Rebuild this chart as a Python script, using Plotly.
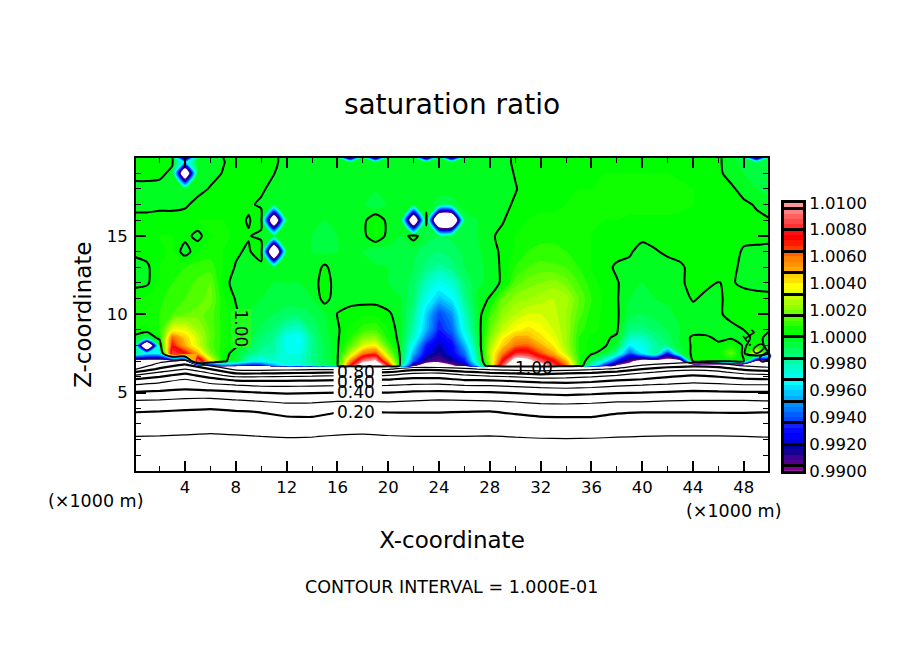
import numpy as np
import plotly.graph_objects as go

W, H = 904, 654

# grid of the upper part, x in km, z in km
x_km = list(range(0, 51))
z_upper = [6.5, 6.7, 7.0, 7.5, 8.0, 8.5, 9.0, 10.0, 11.0, 12.0, 13.0, 14.0, 15.0, 16.0, 17.0, 18.0, 19.0, 19.7, 20.0]

# saturation ratio minus 1, in units of 0.0001, one row per z_upper
dev_rows = [
    [-500] * 51,
    [-150, -150, -150, -150, -150, -130, -110, -60, -70, -80,
     -75, -50, -30, -30, -20, -10, -2, 70, 125, 130,
     80, -10, -95, -120, -120, -105, -90, -40, 20, 90,
     130, 130, 120, 90, 60, 12, -25, -70, -105, -110,
     -150, -150, -150, -150, -150, -150, -150, -150, -150, -150, -150],
    [-115, -115, -115, -115, -115, 95, 40, 2, -5, -25,
     -30, -25, -25, -25, -15, -8, -1, 55, 95, 105,
     50, -4, -60, -90, -95, -85, -70, -20, 25, 75,
     115, 110, 90, 75, 50, 10, -10, -30, -70, -95,
     -115, -115, -115, -115, 1, 2, 1, 2, 0, -110, -100],
    [-12, -30, -30, 85, 75, 50, 20, 3, -3, -12,
     -18, -20, -28, -28, -15, -7, -1, 28, 58, 65,
     25, -3, -45, -75, -85, -75, -55, -15, 28, 58,
     80, 80, 65, 50, 30, 8, 1, -3, -20, -60,
     -35, -15, -70, -8, 2, 3, 3, 15, -3, 40, -3],
    [-6, -170, -8, 72, 50, 32, 14, 6, 1, -8,
     -14, -18, -30, -32, -15, -7, -1, 14, 32, 38,
     12, -3, -35, -68, -80, -72, -45, -10, 25, 45,
     60, 62, 50, 40, 25, 8, 2, 1, -5, -35,
     -30, -18, -12, -4, 1, 3, 1, 6, -1, 4, -3],
    [-2, -8, 3, 62, 45, 30, 15, 6, 1, -6,
     -12, -16, -30, -33, -15, -6, -1, 8, 20, 22,
     6, -3, -25, -55, -75, -65, -35, -8, 20, 38,
     50, 50, 42, 35, 25, 8, 3, 1, -1, -22,
     -22, -15, -10, -3, 1, 1, -1, -1, -2, 2, -2],
    [4, 3, 8, 35, 35, 25, 15, 6, 1, -5,
     -9, -13, -22, -24, -12, -5, -1, 5, 10, 12,
     4, -3, -20, -45, -68, -58, -28, -6, 16, 30,
     38, 42, 38, 32, 25, 10, 5, 3, 1, -14,
     -14, -11, -8, -4, -2, -2, -1, -1, 0, 1, 0.5],
    [5, 6, 8, 12, 16, 18, 14, 6, 1, -4,
     -6, -8, -10, -10, -8, -4, 0.3, 2, 3, 3,
     1, -3, -16, -40, -62, -50, -22, -5, 10, 22,
     28, 32, 32, 30, 24, 14, 6, 3, 1, -6,
     -8, -6, -5, -3, -2, -1, -0.5, 1, 3, 3, 2],
    [4, 5, 7, 10, 12, 14, 18, 5, -0.5, -4,
     -4, -5, -6, -5, -4, 2, -3, -2, -2, -2,
     -3, -4, -12, -30, -42, -35, -16, -3, 0.5, 16,
     22, 24, 26, 28, 26, 16, 8, 3, 0.5, -4,
     -5, -4, -3, -2, 0.5, -1, -1, 2, 4, 4, 3],
    [-2, -1, 5, 8, 10, 13, 16, 2, -2, -3,
     -3, -4, -4, -4, -3, 3, -3, -3, -3, -3,
     -4, -5, -10, -22, -30, -25, -12, -5, -3, 1,
     14, 18, 20, 22, 18, 12, 6, 2, 0.5, -3,
     -4, -3, -3, -1, 2, 1, -0.2, 1, -2, -4, -4],
    [-2, -1, 4, 6, 8, 10, 10, 4, -0.5, -3,
     -3, -4, -4, -4, -3, 1, -3, -3, -3, -3,
     -4, -5, -8, -14, -18, -14, -8, -5, -3, 1,
     8, 12, 14, 13, 12, 8, 4, 2, -1, -1,
     -3, -2, -2, -1, 2, 3, 3, 2, -2, -4, -4],
    [1, 2, 3, 5, -3, 4, 6, 4, 1, -1,
     5, -170, -4, -4, -4, -5, -4, -4, -4, -8,
     -5, -5, -7, -10, -12, -10, -7, -5, -1, 0.5,
     5, 8, 9, 9, 8, 6, 4, 3, 2, 0.5,
     -1.5, -0.5, 1, 2, 3, 3, 3, 3, -1, -1.5, -1],
    [2, 3, 4, 4, 2, -2, 4, 5, 3, 0.5,
     -2, -4, -4, -4, -4, -5, -4, -4, -2, 5,
     -2, -4, 3, -6, -8, -7, -6, -4, -1, 1.5,
     4, 6, 7, 7, 6, 5, 4, 3, 3, 0.5,
     1, 2, 3, 3, 3, 3, 3, 3, 2, 2, 1],
    [2, 2, 3, 3, 3, 4, 4, 4, 2, -0.5,
     3, -150, -4, -4, -4, -4, -4, -4, -2, 5,
     -2, -4, -150, 3, -175, -175, -5, -4, -3, -0.5,
     3, 4, 5, 5, 5, 4, 4, 4, 4, 3,
     3, 3, 3, 3, 3, 3, 3, 3, 2, 1, 0.5],
    [-2, -2, -2, -2, -1, 2, 3, 3, 2, 1,
     -1, -3, -3, -3, -3, -3, -3, -3, -3, -8,
     -3, -3, -3, -3, -5, -5, -3, -3, -3, -2,
     1, 3, 3, 3, 4, 4, 4, 5, 6, 6,
     6, 6, 6, 5, 4, 3, 3, 2, 1, -0.5, -3],
    [-3, -3, -3, -3, -3, -2, 0.5, 3, 3, 2,
     1, -2, -3, -3, -3, -3, -3, -3, -3, -3,
     -3, -3, -3, -3, -3, -3, -3, -3, -3, -3,
     -0.5, 3, 3, 3, 3, 4, 4, 5, 6, 6,
     6, 6, 6, 5, 4, 3, 2, 1, -2, -4, -5],
    [3, 3, 2, -2, -150, -3, -2, 0.3, 3, 3,
     2, 0.2, -3, -3, -3, -3, -3, -3, -3, -3,
     -3, -3, -3, -3, -3, -3, -3, -3, -3, -3,
     0.5, 3, 3, 3, 3, 3, 3, 4, 4, 4,
     4, 4, 4, 3, 3, 2, 1, -2, -4, -5, -5],
    [3, 3, 2, 1, -40, -3, -2, -0.3, 2, 2,
     2, 1, -2, -3, -3, -3, -3, -3, -3, -3,
     -3, -3, -3, -3, -3, -3, -3, -3, -3, -2,
     1, 2, 3, 3, 3, 3, 3, 3, 3, 3,
     3, 3, 3, 3, 2, 2, 1, -3, -5, -6, -6],
    [3, 3, 2, 2, -105, -3, -2, 0, 2, 2,
     2, 1, -2, -3, -3, -3, -3, -110, -4, -110,
     -4, -3, -3, -110, -4, -110, -3, -3, -3, -2,
     1, 2, 2, 2, 2, 2, 2, 2, 2, 2,
     2, 2, 2, 2, 2, 2, 1, -3, -6, -110, -6],
]

# lower part, saturation ratio itself, coarser in x
x_low = list(range(0, 52, 2))
z_low = [0.0, 2.2, 3.8, 4.5, 5.05, 5.5, 5.85, 6.1, 6.3, 6.5, 6.75, 7.1, 7.5]
low_rows = [
    [0.01] * 26,
    [.100, .098, .094, .090, .094, .100, .103, .102, .094, .090, .096, .100, .100,
     .100, .098, .102, .105, .106, .105, .102, .100, .098, .097, .098, .100, .102],
    [.204, .200, .190, .180, .195, .205, .225, .228, .205, .200, .205, .205, .205,
     .202, .200, .212, .225, .228, .228, .210, .204, .204, .204, .206, .206, .204],
    [.300, .295, .280, .275, .295, .310, .325, .320, .310, .310, .315, .305, .295,
     .300, .305, .315, .330, .335, .325, .315, .315, .305, .300, .300, .300, .305],
    [.400, .390, .375, .380, .395, .410, .420, .415, .410, .410, .410, .395, .390,
     .400, .405, .415, .430, .440, .430, .415, .410, .400, .390, .395, .400, .400],
    [.500, .470, .450, .480, .505, .525, .525, .520, .515, .515, .510, .495, .490,
     .510, .515, .530, .550, .560, .545, .520, .505, .490, .475, .485, .500, .500],
    [.600, .555, .500, .570, .630, .630, .630, .625, .615, .610, .605, .580, .580,
     .615, .620, .640, .670, .680, .655, .620, .600, .575, .550, .565, .590, .600],
    [.700, .630, .560, .660, .740, .740, .730, .720, .710, .710, .700, .650, .650,
     .690, .720, .740, .770, .740, .730, .700, .640, .620, .600, .620, .660, .680],
    [.800, .700, .630, .720, .840, .840, .830, .820, .810, .810, .800, .730, .720,
     .780, .820, .840, .860, .840, .820, .780, .720, .680, .660, .680, .740, .760],
    [.910, .780, .700, .800, .930, .940, .930, .920, .920, .920, .910, .840, .840,
     .880, .920, .940, .950, .940, .920, .880, .800, .740, .720, .740, .820, .860],
    [.980, .860, .780, .920, .990, .990, .990, .990, .990, .990, .990, .990, .990,
     .990, .990, .990, .990, .990, .990, .990, .900, .870, .840, .860, .920, .950],
    [.990, .950, .910, .990, .995, .995, .995, .995, .995, .995, .995, .995, .995,
     .995, .995, .995, .995, .995, .995, .995, .990, .980, .960, .970, .980, .990],
    [.995] * 26,
]

# colour table, bottom of the colour bar to the top, one per 0.0004
bar_colors = [
    "#800090",
    "#500090", "#3c0090", "#180090", "#0000a0",
    "#0000d8", "#0000ff", "#0808ff", "#1020ff",
    "#0048ff", "#0060ff", "#0078ff", "#0090ff",
    "#00b0ff", "#00c8ff", "#00e0ff", "#00ffff",
    "#00fff0", "#00ffd8", "#00ffc0", "#00ffa0",
    "#00ff80", "#00ff60", "#00ff40", "#00ff20",
    "#00ff00", "#10ff00", "#30ff00", "#50ff00",
    "#70ff00", "#90ff00", "#a8ff00", "#c8ff00",
    "#e8ff00", "#ffff00", "#ffe000", "#ffd000",
    "#ffa800", "#ff9400", "#ff8000", "#ff6000",
    "#ff3800", "#ff1800", "#ff0000", "#ff1010",
    "#ff3030", "#ff4848", "#ff6060", "#ff8080",
    "#ff9898",
]
bar_ticks = [0.99, 0.992, 0.994, 0.996, 0.998, 1.0, 1.002, 1.004, 1.006, 1.008, 1.01]

ratio = 1 + np.array(dev_rows, dtype=float) * 1e-4

# values out of the colour range stay white
n = len(bar_colors)
fill_colors = ["#ffffff"] + bar_colors + ["#ffffff"]
fill_scale = [[i / (n + 1), c] for i, c in enumerate(fill_colors)]

fig = go.Figure()
fig.add_trace(go.Contour(
    x=x_km, y=z_upper, z=ratio, showscale=False, hoverinfo="skip",
    colorscale=fill_scale, autocontour=False,
    contours=dict(start=0.99, end=1.01, size=0.0004, coloring="fill", showlines=False),
    line=dict(width=0, smoothing=0.7),
))
fig.add_trace(go.Contour(
    x=x_km, y=z_upper, z=ratio, showscale=False, hoverinfo="skip", autocontour=False,
    contours=dict(start=1.0, end=1.0, size=1, coloring="none"),
    line=dict(color="black", width=2, smoothing=0.7),
))
# 0.2, 0.4 ... are heavy, the ones between are thin
fig.add_trace(go.Contour(
    x=x_low, y=z_low, z=low_rows, showscale=False, hoverinfo="skip", autocontour=False,
    contours=dict(start=0.1, end=0.9, size=0.2, coloring="none"),
    line=dict(color="black", width=1.2, smoothing=0.3),
))
fig.add_trace(go.Contour(
    x=x_low, y=z_low, z=low_rows, showscale=False, hoverinfo="skip", autocontour=False,
    contours=dict(start=0.2, end=0.8, size=0.2, coloring="none"),
    line=dict(color="black", width=2.2, smoothing=0.3),
))

# colour bar is its own small axes, heatmap of the colour table
edges = [0.99 + 0.0004 * i for i in range(n + 1)]
centers = [[0.99 + 0.0004 * (i + 0.5)] for i in range(n)]
bar_scale = [[(i + 0.5) / n, c] for i, c in enumerate(bar_colors)]
bar_scale = [[0, bar_colors[0]]] + bar_scale + [[1, bar_colors[-1]]]
fig.add_trace(go.Heatmap(
    x=[0, 1], y=edges, z=centers, zmin=0.99, zmax=1.01, colorscale=bar_scale,
    showscale=False, hoverinfo="skip", xaxis="x2", yaxis="y2",
))
# hidden, only so the axis with the black separators gets drawn
fig.add_trace(go.Scatter(x=[0.5], y=[1.0], mode="markers", marker=dict(opacity=0), hoverinfo="skip",
                         xaxis="x2", yaxis="y3"))


def py(v):
    # paper fraction for a pixel row; the plot area came out 6 px inset top and bottom
    return 1 - (v - 6) / (H - 12)


font = "DejaVu Sans"
axis_common = dict(showgrid=False, zeroline=False, showline=True, linecolor="black", linewidth=2,
                   mirror="allticks", ticks="inside", ticklen=10, tickwidth=2, tickcolor="black",
                   tickfont=dict(family=font, size=16.5, color="black"))

fig.update_layout(
    width=W, height=H, margin=dict(l=0, r=0, t=0, b=0),
    paper_bgcolor="white", plot_bgcolor="white", showlegend=False,
    font=dict(family=font, color="black"),
    title=dict(text="saturation ratio", x=452 / W, y=1 - 104 / H, xanchor="center", yanchor="middle",
               font=dict(family=font, size=28, color="black")),
    xaxis=dict(domain=[136 / W, 768 / W], range=[0.14, 49.9], tickvals=list(range(4, 49, 4)),
               minor=dict(dtick=2, tick0=0, ticks="inside", ticklen=5, tickwidth=1, tickcolor="black"),
               title=dict(text="X-coordinate", standoff=36, font=dict(family=font, size=23, color="black")),
               **axis_common),
    yaxis=dict(domain=[py(473), py(157)], range=[0, 19.95], tickvals=[5, 10, 15], ticklabelstandoff=3,
               minor=dict(dtick=1, tick0=0, ticks="inside", ticklen=5, tickwidth=1, tickcolor="black"),
               title=dict(text="Z-coordinate", standoff=9, font=dict(family=font, size=23, color="black")),
               **axis_common),
    xaxis2=dict(domain=[784 / W, 803 / W], range=[0, 1], showticklabels=False, ticks="", showgrid=False,
                zeroline=False, showline=True, linecolor="black", linewidth=3, mirror=True, anchor="y2"),
    yaxis2=dict(domain=[py(473), py(202)], range=[0.99, 1.01], side="right", anchor="x2",
                tickvals=bar_ticks, ticktext=[f"{v:.4f}" for v in bar_ticks], ticks="",
                tickfont=dict(family=font, size=16.5, color="black"),
                showgrid=False, zeroline=False, showline=True, linecolor="black", linewidth=3, mirror=True),
    yaxis3=dict(domain=[py(473), py(202)], range=[0.99, 1.01], overlaying="y2", anchor="x2", side="left",
                tickmode="linear", tick0=0.9904, dtick=0.0016, ticks="inside", ticklen=19, tickwidth=3,
                tickcolor="black", showticklabels=False, showgrid=False, zeroline=False),
    shapes=[
        # gaps in the contour lines behind the labels
        dict(type="rect", xref="x", yref="y", x0=15.7, x1=19.5, y0=4.75, y1=6.55,
             fillcolor="white", line=dict(width=0), layer="above"),
        dict(type="rect", xref="x", yref="y", x0=15.7, x1=19.5, y0=3.3, y1=4.2,
             fillcolor="white", line=dict(width=0), layer="above"),
    ],
)

labels = [
    ("0.80", 17.5, 6.3, 0, None), ("0.60", 17.5, 5.65, 0, None), ("0.40", 17.5, 5.03, 0, None),
    ("0.20", 17.5, 3.77, 0, None), ("1.00", 31.5, 6.6, 0, None),
    ("1.00", 8.4, 9.1, 90, "#20ff20"), ("1.00", 49.0, 7.95, 55, None),
]
for text, lx, lz, angle, bg in labels:
    fig.add_annotation(x=lx, y=lz, xref="x", yref="y", text=text, showarrow=False, textangle=angle,
                       bgcolor=bg, borderpad=0, font=dict(family=font, size=17, color="black"))

paper_texts = [
    ("(×1000 m)", 95, 503, 17.5),
    ("(×1000 m)", 733, 514, 17.5),
    ("CONTOUR INTERVAL = 1.000E-01", 451, 590, 17.5),
]
for text, tx, ty, size in paper_texts:
    fig.add_annotation(x=tx / W, y=py(ty), xref="paper", yref="paper", text=text, showarrow=False,
                       xanchor="center", yanchor="middle", font=dict(family=font, size=size, color="black"))

fig.write_html("out.html", post_script="document.body.style.margin='0';",
               config={"displayModeBar": False})
